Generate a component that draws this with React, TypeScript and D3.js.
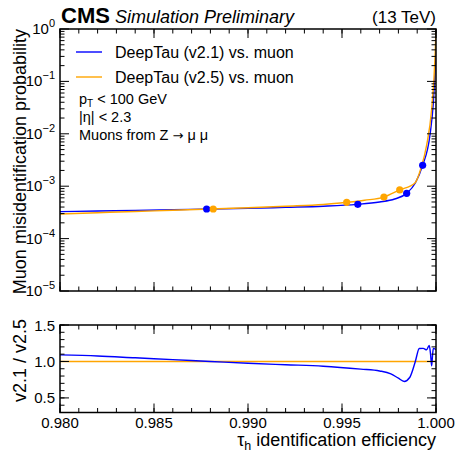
import React from 'react';
import * as d3 from 'd3';

// ---- data ----
const blueCurveX = [0.980, 0.982, 0.984, 0.986, 0.988, 0.990, 0.992, 0.994, 0.9958, 0.9970, 0.9978, 0.99844, 0.9989, 0.99929, 0.99968, 0.99986, 1.0];
const blueCurveY = [3.27e-4, 3.37e-4, 3.46e-4, 3.56e-4, 3.68e-4, 3.77e-4, 3.95e-4, 4.15e-4, 4.5e-4, 5.0e-4, 5.7e-4, 7.3e-4, 1.15e-3, 2.5e-3, 9.5e-3, 0.04, 0.4];
const orangeCurveX = [0.980, 0.982, 0.984, 0.986, 0.988, 0.990, 0.992, 0.994, 0.99525, 0.9962, 0.99723, 0.99807, 0.99888, 0.9992, 0.9995, 0.99977, 0.99995, 1.0];
const orangeCurveY = [2.95e-4, 3.12e-4, 3.29e-4, 3.47e-4, 3.66e-4, 3.88e-4, 4.15e-4, 4.48e-4, 4.93e-4, 5.4e-4, 6.2e-4, 8.5e-4, 1.15e-3, 2.2e-3, 6e-3, 0.03, 0.3, 1.0];
const bluePointX = [0.9878, 0.99584, 0.99844, 0.99929];
const bluePointY = [3.67e-4, 4.5e-4, 7.3e-4, 2.5e-3];
const orangePointX = [0.98815, 0.99525, 0.99723, 0.99807];
const orangePointY = [3.67e-4, 4.93e-4, 6.2e-4, 8.5e-4];
const ratioX = [0.980, 0.982, 0.984, 0.986, 0.988, 0.990, 0.992, 0.994, 0.9960, 0.9970, 0.9976, 0.9980, 0.99831, 0.9986, 0.9989, 0.99911, 0.99932, 0.9995, 0.99964, 0.99971, 0.99977, 0.99982, 0.99986, 1.0];
const ratioY = [1.09, 1.075, 1.05, 1.025, 1.0, 0.975, 0.955, 0.935, 0.895, 0.87, 0.83, 0.77, 0.726, 0.78, 1.0, 1.178, 1.18, 1.16, 1.22, 1.1, 0.94, 1.1, 1.18, 1.16];
const referenceRatio = 1.0;

const xMajorTicks = [0.980, 0.985, 0.990, 0.995, 1.000];
const xTickLabels = ['0.980', '0.985', '0.990', '0.995', '1.000'];
const yTopExponents = [0, -1, -2, -3, -4, -5];
const yBotTicks = [0.5, 1.0, 1.5];
const yBotTickLabels = ['0.5', '1.0', '1.5'];

const seriesNames = ['DeepTau (v2.1) vs. muon', 'DeepTau (v2.5) vs. muon'];
const BLUE = '#0000ff';
const ORANGE = '#ffa500';
const FONT = '"Liberation Sans", Arial, Helvetica, sans-serif';

export default function App() {
  const W = 461, H = 455;
  const L = 60, R = 436;
  const topT = 29, topB = 291;
  const botT = 325, botB = 412.5;

  const x = d3.scaleLinear().domain([0.98, 1.0]).range([L, R]);
  const yTop = d3.scaleLog().domain([1e-5, 1]).range([topB, topT]);
  const yBot = d3.scaleLinear().domain([0.3, 1.5]).range([botB, botT]);

  const lineTop = d3.line<[number, number]>()
    .x(d => x(d[0])).y(d => yTop(d[1])).curve(d3.curveMonotoneX);
  const lineBot = d3.line<[number, number]>()
    .x(d => x(d[0])).y(d => yBot(d[1])).curve(d3.curveMonotoneX);

  const bluePath = lineTop(blueCurveX.map((v, i) => [v, blueCurveY[i]] as [number, number])) || '';
  const orangePath = lineTop(orangeCurveX.map((v, i) => [v, orangeCurveY[i]] as [number, number])) || '';
  const ratioPath = lineBot(ratioX.map((v, i) => [v, ratioY[i]] as [number, number])) || '';

  const MAJ = 9, MIN = 4.5;
  const xMinor = d3.range(0, 21).map(i => 0.98 + i * 0.001);
  const yTopMinor: number[] = [];
  for (let e = -5; e < 0; e++) for (let k = 2; k <= 9; k++) yTopMinor.push(k * Math.pow(10, e));
  const yBotMinor = d3.range(3, 16).map(i => i / 10);

  const tickEls: React.ReactNode[] = [];
  let key = 0;
  const hTicks = (yPos: number, dir: number) => {
    xMinor.forEach(v => tickEls.push(<line key={key++} x1={x(v)} x2={x(v)} y1={yPos} y2={yPos + dir * MIN} stroke="#000" strokeWidth={1} />));
    xMajorTicks.forEach(v => tickEls.push(<line key={key++} x1={x(v)} x2={x(v)} y1={yPos} y2={yPos + dir * MAJ} stroke="#000" strokeWidth={1} />));
  };
  hTicks(topT, 1); hTicks(topB, -1); hTicks(botT, 1); hTicks(botB, -1);
  [L, R].forEach(xp => {
    const d = xp === L ? 1 : -1;
    yTopMinor.forEach(v => tickEls.push(<line key={key++} x1={xp} x2={xp + d * MIN} y1={yTop(v)} y2={yTop(v)} stroke="#000" strokeWidth={1} />));
    yTopExponents.forEach(e => tickEls.push(<line key={key++} x1={xp} x2={xp + d * MAJ} y1={yTop(Math.pow(10, e))} y2={yTop(Math.pow(10, e))} stroke="#000" strokeWidth={1} />));
    yBotMinor.forEach(v => tickEls.push(<line key={key++} x1={xp} x2={xp + d * MIN} y1={yBot(v)} y2={yBot(v)} stroke="#000" strokeWidth={1} />));
    yBotTicks.forEach(v => tickEls.push(<line key={key++} x1={xp} x2={xp + d * MAJ} y1={yBot(v)} y2={yBot(v)} stroke="#000" strokeWidth={1} />));
  });

  return (
    <svg width={W} height={H} style={{ position: 'absolute', left: 0, top: 0, display: 'block', background: '#fff' }} fontFamily={FONT}>
      <defs>
        <clipPath id="clipTop"><rect x={L} y={topT} width={R - L} height={topB - topT} /></clipPath>
        <clipPath id="clipBot"><rect x={L} y={botT} width={R - L} height={botB - botT} /></clipPath>
      </defs>
      <rect x={0} y={0} width={W} height={H} fill="#fff" />

      {/* header */}
      <text x={61} y={23} fontSize={22} fontWeight="bold">CMS</text>
      <text x={115} y={23} fontSize={18} fontStyle="italic">Simulation Preliminary</text>
      <text x={R} y={23} fontSize={17} textAnchor="end">(13 TeV)</text>

      {/* top panel curves */}
      <g clipPath="url(#clipTop)">
        <path d={bluePath} fill="none" stroke={BLUE} strokeWidth={1.4} />
        <path d={orangePath} fill="none" stroke={ORANGE} strokeWidth={1.4} />
        {bluePointX.map((v, i) => <circle key={'b' + i} cx={x(v)} cy={yTop(bluePointY[i])} r={3.6} fill={BLUE} />)}
        {orangePointX.map((v, i) => <circle key={'o' + i} cx={x(v)} cy={yTop(orangePointY[i])} r={3.6} fill={ORANGE} />)}
      </g>

      {/* bottom panel */}
      <g clipPath="url(#clipBot)">
        <line x1={L} x2={R} y1={yBot(referenceRatio)} y2={yBot(referenceRatio)} stroke={ORANGE} strokeWidth={1.4} />
        <path d={ratioPath} fill="none" stroke={BLUE} strokeWidth={1.4} />
      </g>

      {tickEls}
      <rect x={L} y={topT} width={R - L} height={topB - topT} fill="none" stroke="#000" strokeWidth={1.5} />
      <rect x={L} y={botT} width={R - L} height={botB - botT} fill="none" stroke="#000" strokeWidth={1.5} />

      {/* legend */}
      <line x1={76} x2={102} y1={52} y2={52} stroke={BLUE} strokeWidth={1.4} />
      <text x={115} y={58} fontSize={16}>{seriesNames[0]}</text>
      <line x1={76} x2={102} y1={77} y2={77} stroke={ORANGE} strokeWidth={1.4} />
      <text x={115} y={83} fontSize={16}>{seriesNames[1]}</text>

      {/* annotation */}
      <text x={79} y={104} fontSize={14.5}>p<tspan fontSize={10} dy={3}>T</tspan><tspan dy={-3}> &lt; 100 GeV</tspan></text>
      <text x={79} y={122} fontSize={14.5}>|η| &lt; 2.3</text>
      <text x={79} y={140} fontSize={14.5}>Muons from Z <tspan fontFamily="DejaVu Sans" fontSize={13}>→</tspan> μ μ</text>

      {/* y tick labels top */}
      {yTopExponents.map(e => {
        const yy = yTop(Math.pow(10, e));
        const sup = e === 0 ? '0' : '−' + Math.abs(e);
        return (
          <text key={'yl' + e} x={55} y={yy + 5} fontSize={15} textAnchor="end">
            10<tspan fontSize={11} dy={-7}>{sup}</tspan>
          </text>
        );
      })}
      {/* y tick labels bottom */}
      {yBotTicks.map((v, i) => (
        <text key={'yb' + i} x={55} y={yBot(v) + 5.5} fontSize={15} textAnchor="end">{yBotTickLabels[i]}</text>
      ))}
      {/* x tick labels */}
      {xMajorTicks.map((v, i) => (
        <text key={'xl' + i} x={x(v)} y={428} fontSize={15} textAnchor="middle">{xTickLabels[i]}</text>
      ))}

      {/* axis titles */}
      <text x={R} y={446} fontSize={18} textAnchor="end">τ<tspan fontSize={12.5} dy={4}>h</tspan><tspan dy={-4}> identification efficiency</tspan></text>
      <text transform={`translate(26,${topT}) rotate(-90)`} fontSize={18} textAnchor="end">Muon misidentification probability</text>
      <text transform={`translate(26,${botT - 6}) rotate(-90)`} fontSize={18} textAnchor="end">v2.1 / v2.5</text>
    </svg>
  );
}
